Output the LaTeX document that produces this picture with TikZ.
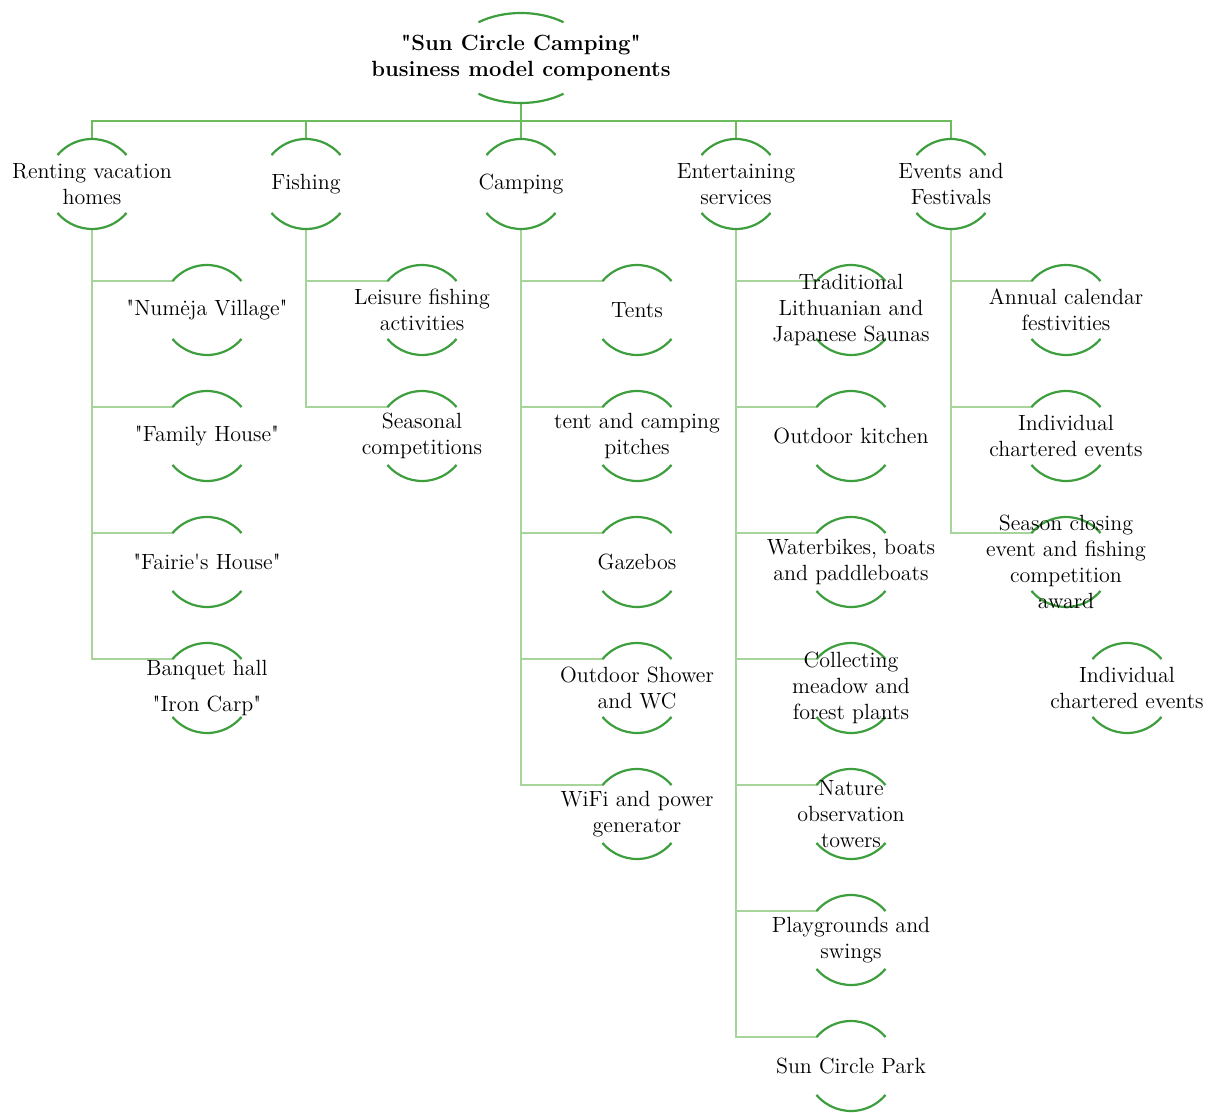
\documentclass[tikz,border=0pt]{standalone}
\usepackage{tikz}
\usetikzlibrary{calc,backgrounds}
\definecolor{rimgreen}{HTML}{3C9E3C}
\definecolor{busgreen}{HTML}{6CBB5C}
\definecolor{twiggreen}{HTML}{A6D49A}
\newcommand{\dq}{\textquotedbl}
\begin{document}
\begin{tikzpicture}[x=0.5pt, y=0.5pt,
  font=\fontsize{11}{13}\selectfont,
  item/.style={align=center, inner sep=1pt},
  head/.style={item, font=\fontsize{11}{13}\selectfont\bfseries},
  rim/.style={rimgreen, line width=1.1pt},
  link/.style={busgreen, line width=1.3pt},
  sublink/.style={twiggreen, line width=1.3pt}]
\useasboundingbox (0,0) rectangle (1212,-1113);
% top
\node[head] (root) at (521,-58) {\dq Sun Circle Camping\dq\\business model components};
% main branches
\node[item] (rent) at (92,-184) {Renting vacation\\homes};
\node[item] (fish) at (306,-184) {Fishing};
\node[item] (camp) at (521,-184) {Camping};
\node[item] (ent) at (736,-184) {Entertaining\\services};
\node[item] (evt) at (951,-184) {Events and\\Festivals};
% renting
\node[item] (village) at (207,-310) {\dq Numėja Village\dq};
\node[item] (family) at (207,-436) {\dq Family House\dq};
\node[item] (fairie) at (207,-562) {\dq Fairie\textquotesingle s House\dq};
\node[item] (banquet) at (207,-688) {Banquet hall\\[5pt]\dq Iron Carp\dq};
% fishing
\node[item] (leisure) at (422,-310) {Leisure fishing\\activities};
\node[item] (seasonal) at (422,-436) {Seasonal\\competitions};
% camping
\node[item] (tents) at (637,-310) {Tents};
\node[item] (pitches) at (637,-436) {tent and camping\\pitches};
\node[item] (gazebos) at (637,-562) {Gazebos};
\node[item] (shower) at (637,-688) {Outdoor Shower\\and WC};
\node[item] (wifi) at (637,-814) {WiFi and power\\generator};
% entertaining
\node[item] (saunas) at (851,-310) {Traditional\\Lithuanian and\\Japanese Saunas};
\node[item] (kitchen) at (851,-436) {Outdoor kitchen};
\node[item] (boats) at (851,-562) {Waterbikes, boats\\and paddleboats};
\node[item] (plants) at (851,-688) {Collecting\\meadow and\\forest plants};
\node[item] (towers) at (851,-814) {Nature\\observation\\towers};
\node[item] (swings) at (851,-940) {Playgrounds and\\swings};
\node[item] (park) at (851,-1066) {Sun Circle Park};
% events
\node[item] (annual) at (1066,-310) {Annual calendar\\festivities};
\node[item] (charter) at (1066,-436) {Individual\\chartered events};
\node[item] (closing) at (1066,-562) {Season closing\\event and fishing\\competition\\award};
\node[item] (charterb) at (1127,-688) {Individual\\chartered events};
\begin{scope}[on background layer]
  \foreach \c in {rent,fish,camp,ent,evt}
    \draw[link] ($(root)+(0,-45)$) -- ++(0,-18) -| ($(\c)+(0,45)$);
  \foreach \p/\c in {rent/village, rent/family, rent/fairie, rent/banquet,
                     fish/leisure, fish/seasonal,
                     camp/tents, camp/pitches, camp/gazebos, camp/shower, camp/wifi,
                     ent/saunas, ent/kitchen, ent/boats, ent/plants, ent/towers, ent/swings, ent/park,
                     evt/annual, evt/charter, evt/closing}
    \draw[sublink] ($(\p)+(0,-45)$) |- ($(\c)+(140:45)$);
  % rims
  \draw[rim] ($(root)+(52.6:70 and 45)$) arc[start angle=52.6, end angle=127.4, x radius=70, y radius=45];
  \draw[rim] ($(root)+(232.6:70 and 45)$) arc[start angle=232.6, end angle=307.4, x radius=70, y radius=45];
  \foreach \n in {rent,fish,camp,ent,evt,village,family,fairie,banquet,leisure,seasonal,
                  tents,pitches,gazebos,shower,wifi,saunas,kitchen,boats,plants,towers,swings,park,
                  annual,charter,closing,charterb} {
    \draw[rim] ($(\n)+(40:45)$) arc[start angle=40, end angle=140, radius=45];
    \draw[rim] ($(\n)+(220:45)$) arc[start angle=220, end angle=320, radius=45];
  }
\end{scope}
\end{tikzpicture}
\end{document}
